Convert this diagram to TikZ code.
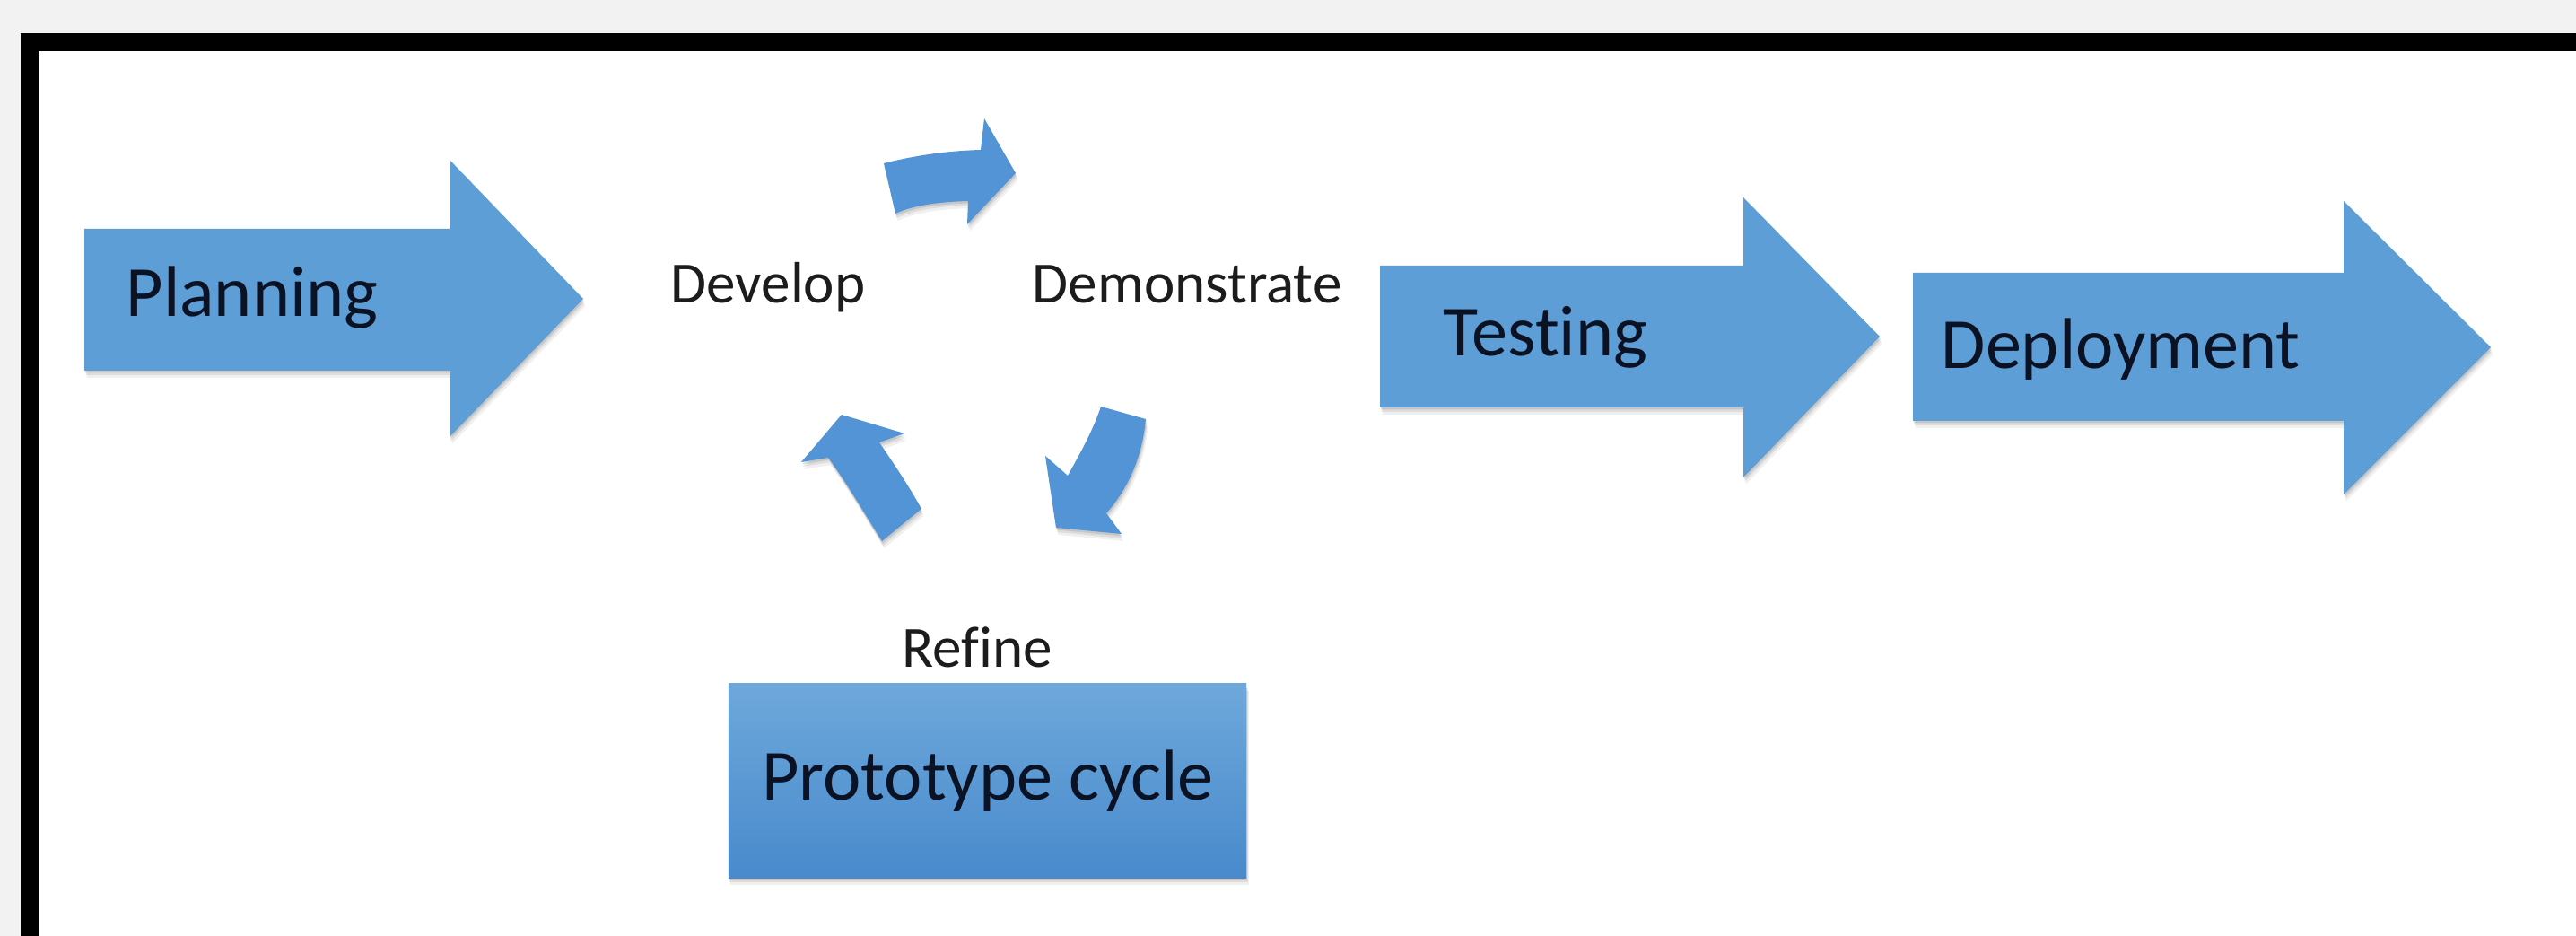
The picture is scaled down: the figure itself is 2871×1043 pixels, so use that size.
\documentclass[tikz,border=0pt]{standalone}
\usepackage{fontspec}
\setmainfont[Ligatures=NoCommon]{Carlito}
\definecolor{bgray}{RGB}{242,242,242}
\definecolor{arrowblue}{RGB}{94,158,215}
\definecolor{cycblue}{RGB}{82,148,214}
\definecolor{boxtop}{RGB}{110,168,219}
\definecolor{boxbot}{RGB}{72,138,204}
\definecolor{bigtext}{RGB}{10,18,36}
\definecolor{smalltext}{RGB}{28,28,28}
\tikzset{
  softshadow/.style={
    preaction={fill=black, opacity=0.06, transform canvas={shift={(0.025cm,-0.08cm)}}},
    preaction={fill=black, opacity=0.08, transform canvas={shift={(0.015cm,-0.05cm)}}},
    preaction={fill=black, opacity=0.10, transform canvas={shift={(0.008cm,-0.025cm)}}}},
  bigarrow/.style={softshadow, fill=arrowblue},
  cycarrow/.style={softshadow, fill=cycblue},
  protobox/.style={draw=none, rectangle, inner sep=0pt, softshadow, top color=boxtop, bottom color=boxbot},
  biglabel/.style={inner sep=0pt, anchor=base west, text=bigtext, font=\fontsize{22.8pt}{27pt}\selectfont},
  smalllabel/.style={inner sep=0pt, anchor=base west, text=smalltext, font=\fontsize{18.5pt}{22pt}\selectfont}
}
\begin{document}
\begin{tikzpicture}[x=0.01cm,y=-0.01cm]
\useasboundingbox (0,0) rectangle (2871,1043);
% frame
\fill[bgray] (0,0) rectangle (2871,1043);
\fill[black] (23,37) rectangle (2871,1043);
\fill[white] (43,57) rectangle (2871,1043);

% big arrows
\path[bigarrow] (94,255) -- (501,255) -- (501,178) -- (650,333) -- (501,487) -- (501,413) -- (94,413) -- cycle;
\path[bigarrow] (1538,296) -- (1943,296) -- (1943,220) -- (2095,375) -- (1943,532) -- (1943,454) -- (1538,454) -- cycle;
\path[bigarrow] (2132,304) -- (2612,304) -- (2612,224) -- (2776,387) -- (2612,551) -- (2612,469) -- (2132,469) -- cycle;

% cycle arrows
\path[cycarrow] (985,182) .. controls (1025,172) and (1060,168) .. (1093,167) -- (1097,132) -- (1132,193) -- (1078,250) -- (1079,224) .. controls (1045,225) and (1017,229) .. (998,238) -- cycle;
\path[cycarrow] (1227,453) -- (1277,467) .. controls (1273,510) and (1257,545) .. (1233,572) -- (1250,595) -- (1177,588) -- (1165,508) -- (1190,530) .. controls (1204,505) and (1218,480) .. (1227,453) -- cycle;
\path[cycarrow] (938,462) -- (1008,483) -- (980,493) .. controls (995,515) and (1012,540) .. (1027,567) -- (983,603) .. controls (965,575) and (945,540) .. (923,510) -- (893,515) -- cycle;

% prototype box
\node[protobox, minimum width=5.77cm, minimum height=2.16cm] (proto) at (1100.5,870) {};
\node[biglabel, anchor=base] (prototxt) at (1101,892) {Prototype cycle};

% labels
\node[biglabel] (planning) at (140,353) {Planning};
\node[biglabel] (testing) at (1608,397) {Testing};
\node[biglabel] (deploy) at (2163,411) {Deployment};
\node[smalllabel] (develop) at (747,338) {Develop};
\node[smalllabel] (demo) at (1150,338) {Demonstrate};
\node[smalllabel] (refine) at (1005,744) {Refine};
\end{tikzpicture}
\end{document}
